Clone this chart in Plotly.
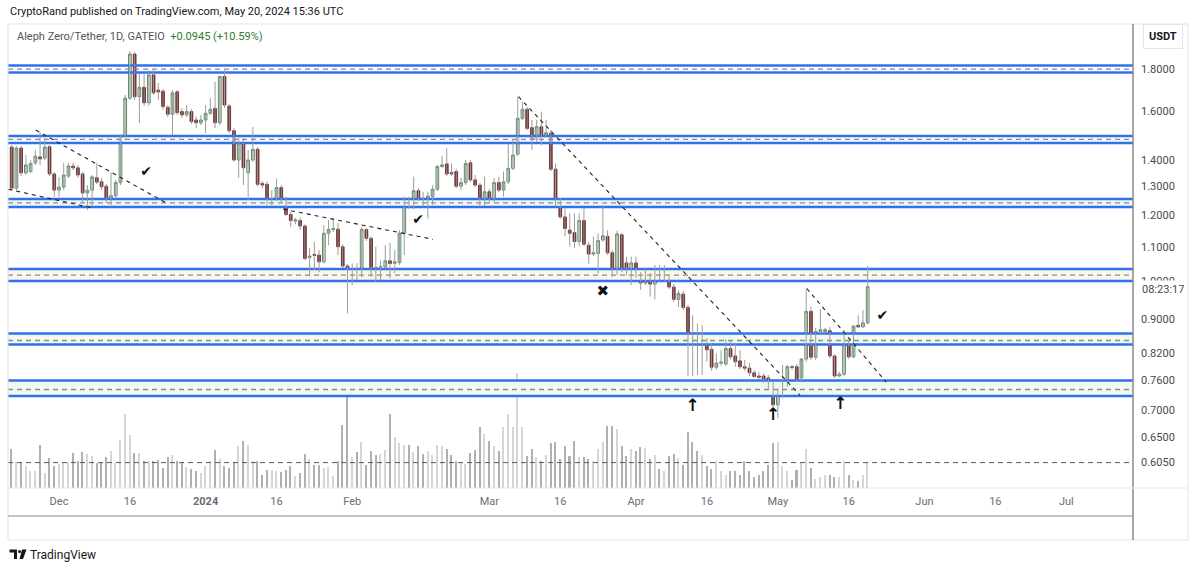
import plotly.graph_objects as go
import pandas as pd
import math

# ---------------- data ----------------
dates = pd.date_range('2023-11-21', periods=182, freq='D')

opens = [
    1.450, 1.294, 1.446, 1.350, 1.355, 1.388, 1.411, 1.407, 1.451, 1.346,
    1.287, 1.298, 1.338, 1.376, 1.369, 1.346, 1.277, 1.287, 1.332, 1.317,
    1.301, 1.256, 1.267, 1.314, 1.495, 1.660, 1.876, 1.667, 1.711, 1.639,
    1.771, 1.698, 1.693, 1.619, 1.588, 1.690, 1.600, 1.585, 1.600, 1.563,
    1.551, 1.563, 1.592, 1.614, 1.551, 1.763, 1.625, 1.517, 1.399, 1.467,
    1.351, 1.399, 1.441, 1.311, 1.308, 1.244, 1.254, 1.296, 1.252, 1.203,
    1.181, 1.183, 1.165, 1.068, 1.077, 1.075, 1.055, 1.142, 1.154, 1.155,
    1.100, 1.043, 1.001, 1.024, 1.022, 1.154, 1.126, 1.038, 1.040, 1.040,
    1.058, 1.051, 1.053, 1.142, 1.246, 1.229, 1.285, 1.258, 1.252, 1.264,
    1.290, 1.374, 1.384, 1.351, 1.355, 1.301, 1.314, 1.388, 1.324, 1.305,
    1.238, 1.281, 1.252, 1.314, 1.287, 1.317, 1.367, 1.422, 1.570, 1.610,
    1.530, 1.482, 1.534, 1.499, 1.506, 1.364, 1.252, 1.195, 1.152, 1.144,
    1.116, 1.183, 1.105, 1.078, 1.080, 1.121, 1.132, 1.082, 1.024, 1.137,
    1.052, 1.029, 1.052, 1.017, 0.995, 0.998, 0.992, 1.031, 1.003, 1.006,
    0.984, 0.951, 0.965, 0.930, 0.866, 0.859, 0.838, 0.840, 0.828, 0.788,
    0.797, 0.795, 0.830, 0.813, 0.802, 0.789, 0.786, 0.776, 0.769, 0.769,
    0.765, 0.741, 0.710, 0.735, 0.750, 0.789, 0.789, 0.765, 0.806, 0.920,
    0.810, 0.870, 0.870, 0.872, 0.813, 0.769, 0.773, 0.838, 0.811, 0.885,
    0.881, 0.891]

highs = [
    1.458, 1.454, 1.454, 1.418, 1.399, 1.438, 1.512, 1.487, 1.458, 1.353,
    1.335, 1.388, 1.388, 1.388, 1.380, 1.353, 1.305, 1.342, 1.388, 1.331,
    1.309, 1.353, 1.324, 1.503, 1.675, 1.892, 1.887, 1.776, 1.776, 1.796,
    1.796, 1.732, 1.703, 1.629, 1.698, 1.698, 1.616, 1.629, 1.611, 1.578,
    1.585, 1.629, 1.661, 1.738, 1.766, 1.796, 1.634, 1.528, 1.491, 1.487,
    1.438, 1.533, 1.450, 1.320, 1.317, 1.287, 1.328, 1.305, 1.264, 1.211,
    1.192, 1.192, 1.171, 1.096, 1.115, 1.090, 1.168, 1.185, 1.188, 1.175,
    1.108, 1.049, 1.051, 1.051, 1.162, 1.158, 1.132, 1.100, 1.060, 1.105,
    1.112, 1.090, 1.152, 1.264, 1.264, 1.336, 1.294, 1.281, 1.281, 1.305,
    1.380, 1.414, 1.445, 1.386, 1.365, 1.331, 1.399, 1.399, 1.342, 1.313,
    1.336, 1.291, 1.331, 1.335, 1.355, 1.465, 1.479, 1.667, 1.644, 1.620,
    1.563, 1.563, 1.600, 1.563, 1.520, 1.386, 1.259, 1.224, 1.207, 1.207,
    1.207, 1.224, 1.115, 1.132, 1.142, 1.235, 1.152, 1.090, 1.150, 1.143,
    1.070, 1.070, 1.070, 1.025, 1.036, 1.023, 1.046, 1.046, 1.046, 1.014,
    0.992, 0.976, 0.973, 0.936, 0.910, 0.889, 0.885, 0.854, 0.843, 0.819,
    0.826, 0.851, 0.850, 0.842, 0.826, 0.804, 0.797, 0.782, 0.778, 0.775,
    0.771, 0.757, 0.743, 0.793, 0.793, 0.793, 0.795, 0.808, 0.980, 0.932,
    0.878, 0.925, 0.878, 0.881, 0.817, 0.778, 0.874, 0.850, 0.885, 0.910,
    0.923, 1.043]

lows = [
    1.287, 1.287, 1.338, 1.342, 1.350, 1.380, 1.380, 1.399, 1.338, 1.263,
    1.263, 1.287, 1.331, 1.361, 1.331, 1.242, 1.218, 1.232, 1.309, 1.287,
    1.242, 1.235, 1.259, 1.305, 1.479, 1.652, 1.652, 1.550, 1.625, 1.625,
    1.675, 1.652, 1.607, 1.576, 1.499, 1.585, 1.572, 1.576, 1.545, 1.528,
    1.541, 1.507, 1.585, 1.528, 1.541, 1.616, 1.507, 1.392, 1.331, 1.305,
    1.252, 1.392, 1.301, 1.294, 1.235, 1.232, 1.249, 1.242, 1.198, 1.162,
    1.171, 1.152, 1.060, 1.014, 1.031, 1.025, 1.051, 1.105, 1.146, 1.075,
    1.037, 0.915, 0.989, 1.003, 1.011, 1.118, 1.012, 0.998, 1.003, 1.034,
    1.009, 1.023, 1.046, 1.075, 1.221, 1.221, 1.249, 1.229, 1.190, 1.235,
    1.284, 1.369, 1.338, 1.338, 1.294, 1.287, 1.305, 1.316, 1.298, 1.229,
    1.232, 1.245, 1.245, 1.280, 1.264, 1.309, 1.361, 1.414, 1.563, 1.520,
    1.438, 1.471, 1.458, 1.487, 1.357, 1.229, 1.188, 1.132, 1.100, 1.096,
    1.102, 1.102, 1.050, 1.072, 1.022, 1.115, 1.075, 1.012, 1.017, 1.025,
    1.017, 0.989, 1.009, 0.976, 0.989, 0.958, 0.951, 1.000, 0.998, 0.979,
    0.944, 0.931, 0.923, 0.768, 0.769, 0.771, 0.771, 0.800, 0.780, 0.782,
    0.791, 0.791, 0.806, 0.789, 0.784, 0.780, 0.768, 0.765, 0.763, 0.754,
    0.740, 0.690, 0.684, 0.723, 0.746, 0.782, 0.757, 0.758, 0.800, 0.804,
    0.804, 0.861, 0.865, 0.808, 0.765, 0.767, 0.769, 0.806, 0.808, 0.879,
    0.879, 0.888]

closes = [
    1.294, 1.446, 1.350, 1.380, 1.386, 1.414, 1.403, 1.450, 1.346, 1.287,
    1.298, 1.342, 1.376, 1.369, 1.342, 1.277, 1.287, 1.335, 1.316, 1.299,
    1.252, 1.267, 1.314, 1.495, 1.660, 1.876, 1.667, 1.711, 1.639, 1.771,
    1.685, 1.689, 1.622, 1.588, 1.685, 1.595, 1.585, 1.600, 1.556, 1.551,
    1.563, 1.592, 1.610, 1.551, 1.763, 1.629, 1.517, 1.399, 1.467, 1.369,
    1.399, 1.441, 1.308, 1.305, 1.244, 1.254, 1.296, 1.252, 1.203, 1.183,
    1.185, 1.165, 1.065, 1.072, 1.074, 1.055, 1.142, 1.154, 1.157, 1.100,
    1.043, 1.001, 1.022, 1.014, 1.154, 1.126, 1.038, 1.034, 1.041, 1.058,
    1.050, 1.055, 1.142, 1.246, 1.229, 1.285, 1.256, 1.254, 1.266, 1.290,
    1.374, 1.380, 1.346, 1.346, 1.301, 1.314, 1.386, 1.324, 1.305, 1.238,
    1.281, 1.252, 1.314, 1.287, 1.317, 1.367, 1.418, 1.570, 1.610, 1.527,
    1.482, 1.534, 1.495, 1.509, 1.364, 1.252, 1.195, 1.157, 1.142, 1.116,
    1.183, 1.108, 1.078, 1.082, 1.119, 1.134, 1.082, 1.024, 1.140, 1.031,
    1.029, 1.052, 1.017, 0.995, 0.998, 0.992, 1.031, 1.006, 1.008, 0.984,
    0.951, 0.967, 0.930, 0.866, 0.859, 0.838, 0.850, 0.827, 0.788, 0.797,
    0.799, 0.830, 0.811, 0.800, 0.789, 0.786, 0.776, 0.768, 0.766, 0.761,
    0.743, 0.710, 0.737, 0.750, 0.789, 0.788, 0.762, 0.806, 0.920, 0.810,
    0.870, 0.874, 0.875, 0.813, 0.769, 0.773, 0.838, 0.811, 0.883, 0.881,
    0.891, 0.985]

volumes = [
    39, 26, 26, 22, 17, 17, 43, 15, 30, 22, 24, 25, 26, 35, 27, 36, 34, 32, 25, 25,
    31, 37, 25, 48, 74, 53, 35, 35, 27, 27, 27, 28, 20, 31, 33, 27, 25, 21, 19, 17,
    15, 22, 27, 38, 29, 22, 20, 26, 42, 47, 43, 27, 27, 13, 18, 18, 17, 16, 18, 22,
    12, 15, 34, 29, 23, 23, 20, 21, 12, 27, 63, 105, 31, 36, 46, 23, 37, 33, 34, 38,
    74, 51, 45, 43, 43, 36, 42, 34, 37, 33, 43, 42, 39, 33, 27, 25, 24, 35, 38, 61,
    54, 47, 42, 37, 61, 74, 61, 115, 61, 32, 39, 31, 27, 33, 45, 46, 29, 42, 32, 47,
    31, 31, 29, 27, 39, 46, 62, 62, 59, 42, 32, 39, 37, 41, 40, 29, 33, 19, 17, 32,
    34, 30, 23, 56, 46, 37, 33, 22, 19, 27, 17, 13, 17, 17, 13, 27, 17, 11, 13, 17,
    23, 45, 46, 22, 17, 8, 18, 25, 39, 20, 9, 11, 13, 13, 11, 11, 27, 13, 8, 7,
    13, 25]

# horizontal zones drawn by the author
zone_tops = [1.8176, 1.495, 1.2557, 1.0344, 0.8651, 0.7595]
zone_bottoms = [1.7825, 1.4665, 1.2282, 1.0006, 0.8392, 0.7276]
zone_mids = [1.799, 1.481, 1.242, 1.017, 0.8485, 0.7408]
zone_fills = ['rgba(255,255,255,0)', 'rgba(250,250,250,0.6)', '#f1f8f1',
              '#fcf5e9', '#f0f8f0', '#f0f8f0']
level_price = 0.605

# dashed trend lines (start / end)
trend_x0 = ['2023-11-26 02:00', '2023-11-20 07:00', '2024-01-17 10:00',
            '2024-03-07 04:00', '2024-05-07 03:00']
trend_y0 = [1.520, 1.290, 1.221, 1.667, 0.980]
trend_x1 = ['2023-12-23 19:00', '2023-12-08 06:00', '2024-02-18 02:00',
            '2024-05-05 17:00', '2024-05-23 22:00']
trend_y1 = [1.241, 1.224, 1.123, 0.729, 0.756]

check_x = ['2023-12-19 10:00', '2024-02-14 22:00', '2024-05-23 02:00']
check_y = [1.352, 1.182, 0.908]
cross_x = ['2024-03-25 00:00']
cross_y = [0.971]
arrow_x = ['2024-04-13 00:00', '2024-04-30 00:00', '2024-05-14 05:00']
arrow_y = [0.706, 0.689, 0.710]

price_ticks = [1.8, 1.6, 1.4, 1.3, 1.2, 1.1, 1.0, 0.9, 0.82, 0.76, 0.70, 0.65, 0.605]
date_ticks = ['2023-12-01', '2023-12-16', '2024-01-01', '2024-01-16', '2024-02-01',
              '2024-03-01', '2024-03-16', '2024-04-01', '2024-04-16', '2024-05-01',
              '2024-05-16', '2024-06-01', '2024-06-16', '2024-07-01']
date_labels = ['Dec', '16', '<b>2024</b>', '16', 'Feb', 'Mar', '16', 'Apr', '16',
               'May', '16', 'Jun', '16', 'Jul']

x_start, x_end = '2023-11-20 05:17', '2024-07-15 02:24'
FONT = 'Roboto, Liberation Sans, sans-serif'

# ---------------- figure ----------------
fig = go.Figure()

# zones
for top, bot, mid, fc in zip(zone_tops, zone_bottoms, zone_mids, zone_fills):
    fig.add_trace(go.Scatter(x=[x_start, x_end, x_end, x_start, x_start],
                             y=[bot, bot, top, top, bot], fill='toself',
                             fillcolor=fc, line=dict(width=0), mode='lines',
                             hoverinfo='skip', yaxis='y2'))
    fig.add_trace(go.Scatter(x=[x_start, x_end], y=[mid, mid], mode='lines',
                             line=dict(color='#8a8a8a', width=1.3, dash='5px,4px'),
                             hoverinfo='skip', yaxis='y2'))
    for v in (top, bot):
        fig.add_trace(go.Scatter(x=[x_start, x_end], y=[v, v], mode='lines',
                                 line=dict(color='#2f72f0', width=2.6),
                                 hoverinfo='skip', yaxis='y2'))

# volume (base axis, drawn underneath)
vol_colors = ['#d6d6d6' if c >= o else '#b0b0b0' for o, c in zip(opens, closes)]
fig.add_trace(go.Bar(x=dates, y=volumes, marker=dict(color=vol_colors, line=dict(width=0)),
                     width=0.32 * 86400000, yaxis='y', hoverinfo='skip'))

# level line
fig.add_trace(go.Scatter(x=[x_start, x_end], y=[level_price, level_price], mode='lines',
                         line=dict(color='#5a5a5a', width=1, dash='5px,4px'),
                         hoverinfo='skip', yaxis='y2'))

# wicks
wx, wy = [], []
for d, h, l in zip(dates, highs, lows):
    wx += [d, d, None]
    wy += [l, h, None]
fig.add_trace(go.Scatter(x=wx, y=wy, mode='lines', line=dict(color='#9c9c9c', width=1),
                         hoverinfo='skip', yaxis='y2'))

# candle bodies
body_hi = [max(o, c) for o, c in zip(opens, closes)]
body_lo = [min(o, c) for o, c in zip(opens, closes)]
fig.add_trace(go.Candlestick(
    x=dates, open=opens, high=body_hi, low=body_lo, close=closes, yaxis='y2',
    increasing=dict(fillcolor='#e6f2e8', line=dict(color='#5e8a69', width=1)),
    decreasing=dict(fillcolor='#4f2222', line=dict(color='#7f3535', width=1)),
    whiskerwidth=0, hoverinfo='skip'))

# trend lines
for xa, ya, xb, yb in zip(trend_x0, trend_y0, trend_x1, trend_y1):
    fig.add_trace(go.Scatter(x=[xa, xb], y=[ya, yb], mode='lines',
                             line=dict(color='#222222', width=1.1, dash='4px,4px'),
                             hoverinfo='skip', yaxis='y2'))

# marks
fig.add_trace(go.Scatter(x=check_x, y=check_y, mode='text', text=['✔'] * len(check_x),
                         textfont=dict(size=14, color='#111111', family='DejaVu Sans'),
                         yaxis='y2', hoverinfo='skip'))
fig.add_trace(go.Scatter(x=cross_x, y=cross_y, mode='text', text=['✖'] * len(cross_x),
                         textfont=dict(size=15, color='#111111', family='DejaVu Sans'),
                         yaxis='y2', hoverinfo='skip'))
fig.add_trace(go.Scatter(x=arrow_x, y=arrow_y, mode='text', text=['<b>↑</b>'] * len(arrow_x),
                         textfont=dict(size=17, color='#111111', family='DejaVu Sans'),
                         yaxis='y2', hoverinfo='skip'))

pane_bottom = 28 / 492
fig.update_layout(
    width=1200, height=569,
    margin=dict(l=8, r=67, t=24, b=53),
    paper_bgcolor='white', plot_bgcolor='white',
    showlegend=False,
    font=dict(family=FONT),
    bargap=0, boxgap=0.18,
    xaxis=dict(type='date', range=[x_start, x_end], tickvals=date_ticks, ticktext=date_labels,
               showgrid=False, zeroline=False, showline=False, ticks='',
               tickfont=dict(size=11, color='#6a6d78'), ticklabelstandoff=5,
               rangeslider=dict(visible=False)),
    yaxis=dict(domain=[pane_bottom, 1], range=[0, 464], visible=False, fixedrange=True),
    yaxis2=dict(overlaying='y', side='right', type='log',
                range=[math.log10(0.5639), math.log10(2.039)],
                tickvals=price_ticks, ticktext=[f'{v:.4f}' for v in price_ticks],
                showgrid=False, zeroline=False, showline=False, ticks='',
                tickfont=dict(size=11, color='#4a4a4a'), ticklabelstandoff=7),
)


def px(x):
    return (x - 8) / 1125


def py(y):
    return (516 - y) / 492


shapes = [
    dict(type='rect', xref='paper', yref='paper', x0=0, x1=px(1188),
         y0=py(540), y1=1, line=dict(color='#e0e3eb', width=1)),
    dict(type='line', xref='paper', yref='paper', x0=1, x1=1, y0=py(540), y1=1,
         line=dict(color='#8a8a8a', width=1.5)),
    dict(type='line', xref='paper', yref='paper', x0=0, x1=1, y0=0, y1=0,
         line=dict(color='#8a8a8a', width=1)),
    dict(type='line', xref='paper', yref='paper', x0=0, x1=px(1188),
         y0=pane_bottom, y1=pane_bottom, line=dict(color='#e6e6e6', width=1)),
    # TradingView logo glyph
    dict(type='path', xref='paper', yref='paper',
         path=f'M {px(9.5)},{py(549.5)} L {px(17)},{py(549.5)} L {px(17)},{py(559)} '
              f'L {px(14)},{py(559)} L {px(14)},{py(552.5)} L {px(9.5)},{py(552.5)} Z',
         fillcolor='#131722', line=dict(width=0)),
    dict(type='circle', xref='paper', yref='paper', x0=px(18), x1=px(21), y0=py(553),
         y1=py(550), fillcolor='#131722', line=dict(width=0)),
    dict(type='path', xref='paper', yref='paper',
         path=f'M {px(22)},{py(549.5)} L {px(26.5)},{py(549.5)} L {px(23)},{py(559)} '
              f'L {px(19.5)},{py(559)} Z',
         fillcolor='#131722', line=dict(width=0)),
]
fig.update_layout(shapes=shapes)

annotations = [
    dict(xref='paper', yref='paper', x=0, y=py(12), xanchor='left', yanchor='middle',
         text='CryptoRand published on TradingView.com, May 20, 2024 15:36 UTC',
         showarrow=False, font=dict(size=11, color='#131722')),
    dict(xref='paper', yref='paper', x=px(15), y=py(36), xanchor='left', yanchor='middle',
         text="Aleph Zero/Tether, 1D, GATEIO  <span style='color:#2e7d32'>+0.0945 (+10.59%)</span>",
         showarrow=False, font=dict(size=11, color='#555555')),
    dict(xref='paper', yref='paper', x=px(1163), y=py(37), xanchor='center', yanchor='middle',
         text='<b>USDT</b>', showarrow=False, font=dict(size=11, color='#131722'),
         bgcolor='white', bordercolor='#e6e6e6', borderwidth=1, borderpad=5),
    dict(xref='paper', yref='paper', x=px(1139), y=py(289), xanchor='left', yanchor='middle',
         text='08:23:17', showarrow=False, font=dict(size=11, color='#4a4a4a'),
         bgcolor='white', borderpad=2),
    dict(xref='paper', yref='paper', x=px(28), y=py(555), xanchor='left', yanchor='middle',
         text='TradingView', showarrow=False, font=dict(size=12, color='#131722')),
]
fig.update_layout(annotations=annotations)

fig.write_html('out.html')
